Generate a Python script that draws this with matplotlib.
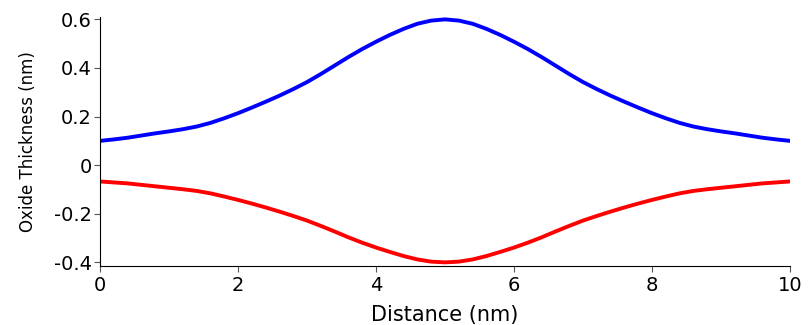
import matplotlib
matplotlib.use('Agg')
import matplotlib.pyplot as plt

# distance along the interface (nm)
distance = [0.0, 0.2, 0.4, 0.6, 0.8, 1.0, 1.2, 1.4, 1.6, 1.8,
            2.0, 2.2, 2.4, 2.6, 2.8, 3.0, 3.2, 3.4, 3.6, 3.8,
            4.0, 4.2, 4.4, 4.6, 4.8, 5.0, 5.2, 5.4, 5.6, 5.8,
            6.0, 6.2, 6.4, 6.6, 6.8, 7.0, 7.2, 7.4, 7.6, 7.8,
            8.0, 8.2, 8.4, 8.6, 8.8, 9.0, 9.2, 9.4, 9.6, 9.8, 10.0]

# top oxide surface (nm)
top = [0.100, 0.106, 0.113, 0.122, 0.131, 0.139, 0.148, 0.159, 0.174, 0.193,
       0.214, 0.237, 0.261, 0.286, 0.313, 0.342, 0.375, 0.410, 0.445, 0.478,
       0.508, 0.536, 0.561, 0.582, 0.595, 0.600, 0.595, 0.582, 0.561, 0.536,
       0.508, 0.478, 0.445, 0.410, 0.375, 0.342, 0.313, 0.286, 0.261, 0.237,
       0.214, 0.193, 0.174, 0.159, 0.148, 0.139, 0.131, 0.122, 0.113, 0.106, 0.100]

# bottom oxide surface (nm)
bottom = [-0.067, -0.071, -0.075, -0.081, -0.087, -0.093, -0.099, -0.106, -0.116, -0.129,
          -0.143, -0.158, -0.174, -0.191, -0.209, -0.228, -0.250, -0.273, -0.297, -0.319,
          -0.339, -0.357, -0.374, -0.388, -0.397, -0.400, -0.397, -0.388, -0.374, -0.357,
          -0.339, -0.319, -0.297, -0.273, -0.250, -0.228, -0.209, -0.191, -0.174, -0.158,
          -0.143, -0.129, -0.116, -0.106, -0.099, -0.093, -0.087, -0.081, -0.075, -0.071, -0.067]

yticks = [-0.4, -0.2, 0, 0.2, 0.4, 0.6]
ytick_labels = ['-0.4', '-0.2', '0', '0.2', '0.4', '0.6']
xticks = [0, 2, 4, 6, 8, 10]

fig = plt.figure(figsize=(8.12, 3.25), dpi=100)
ax = fig.add_axes([0.1232, 0.1815, 0.8497, 0.7671])

ax.plot(distance, top, color='blue', lw=2.8, solid_joinstyle='round')
ax.plot(distance, bottom, color='red', lw=2.8, solid_joinstyle='round')

ax.set_xlim(0, 10)
ax.set_ylim(-0.415, 0.611)
ax.set_xticks(xticks)
ax.set_yticks(yticks)
ax.set_yticklabels(ytick_labels)
ax.tick_params(labelsize=14, length=4, color='#555555', pad=2)
ax.tick_params(axis='x', pad=3.5)

ax.spines['top'].set_visible(False)
ax.spines['right'].set_visible(False)

ax.set_xlabel('Distance (nm)', fontsize=15, labelpad=7)
ax.set_ylabel('Oxide Thickness (nm)', fontsize=12, labelpad=12)

fig.savefig('out.png', dpi=100)
